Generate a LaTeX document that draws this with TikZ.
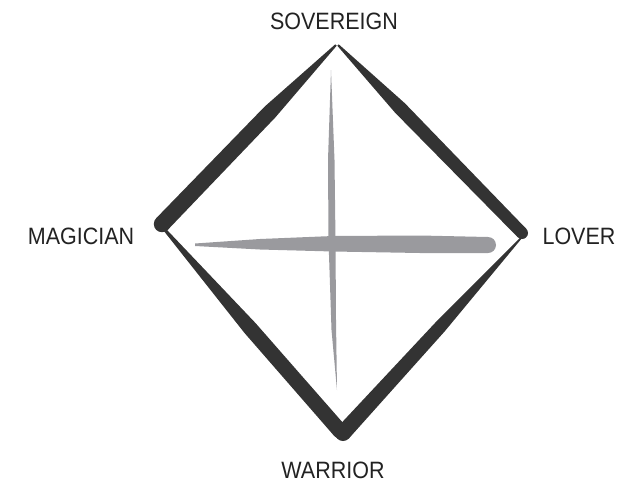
\documentclass[tikz,border=0pt]{standalone}
\usepackage{fontspec}
\setmainfont{Liberation Sans}
\usetikzlibrary{calc}
\definecolor{ink}{HTML}{333333}
\definecolor{crossgray}{HTML}{9A9A9E}
\definecolor{txt}{HTML}{222222}
% tapered brush stroke: colour, A, half-width at A, M, half-width at M, B, half-width at B
\newcommand\bstroke[7]{%
  \fill[#1] ($(#2)!#3!90:(#4)$) -- ($(#4)!#5!90:(#6)$) -- ($(#6)!#7!-90:(#4)$)
    -- ($(#6)!#7!90:(#4)$) -- ($(#4)!#5!-90:(#6)$) -- ($(#2)!#3!-90:(#4)$) -- cycle;}
\tikzset{lbl/.style={font=\fontsize{21.5}{24}\selectfont, text=txt, inner sep=0pt, yscale=1.1}}
\begin{document}
\begin{tikzpicture}[x=1pt,y=-1pt]
\useasboundingbox (0,0) rectangle (625,483);
% vertices
\coordinate (T1) at (336,45);
\coordinate (T2) at (338,45);
\coordinate (L1) at (162,224);
\coordinate (L2) at (165,230);
\coordinate (R1) at (522,233);
\coordinate (R2) at (521,238);
\coordinate (B1) at (340,431);
\coordinate (B2) at (343,433);
\coordinate (ULm) at (270,112);
\coordinate (URm) at (400,108);
\coordinate (LLm) at (250,328);
\coordinate (LRm) at (440,327);
% diamond strokes
\bstroke{ink}{L1}{8.2pt}{ULm}{7.6pt}{T1}{1pt}
\fill[ink] (L1) circle (8.2pt);
\bstroke{ink}{T2}{1pt}{URm}{6.8pt}{R1}{6pt}
\fill[ink] (R1) circle (6pt);
\bstroke{ink}{L2}{1.5pt}{LLm}{7.4pt}{B1}{7.6pt}
\fill[ink] (B1) circle (7.6pt);
\bstroke{ink}{B2}{8pt}{LRm}{6.4pt}{R2}{0.8pt}
\fill[ink] (B2) circle (8pt);
% cross
\fill[crossgray] (331,70) -- (328,160) -- (328.5,240) -- (331.5,330) -- (337,390)
  -- (336,320) -- (335.5,240) -- (334.5,160) -- cycle;
\fill[crossgray] (195,243.5) -- (260,239) -- (333,236) -- (420,235.5) -- (488,237)
  arc[start angle=90, end angle=-90, radius=8pt] -- (420,253) -- (333,251.5) -- (260,249.5) -- (195,246) -- cycle;
% labels
\node[lbl] (sov) at (334,21.5) {SOVEREIGN};
\node[lbl] (mag) at (81,236.5) {MAGICIAN};
\node[lbl] (lov) at (579,236.5) {LOVER};
\node[lbl] (war) at (333,470) {WARRIOR};
\end{tikzpicture}
\end{document}
